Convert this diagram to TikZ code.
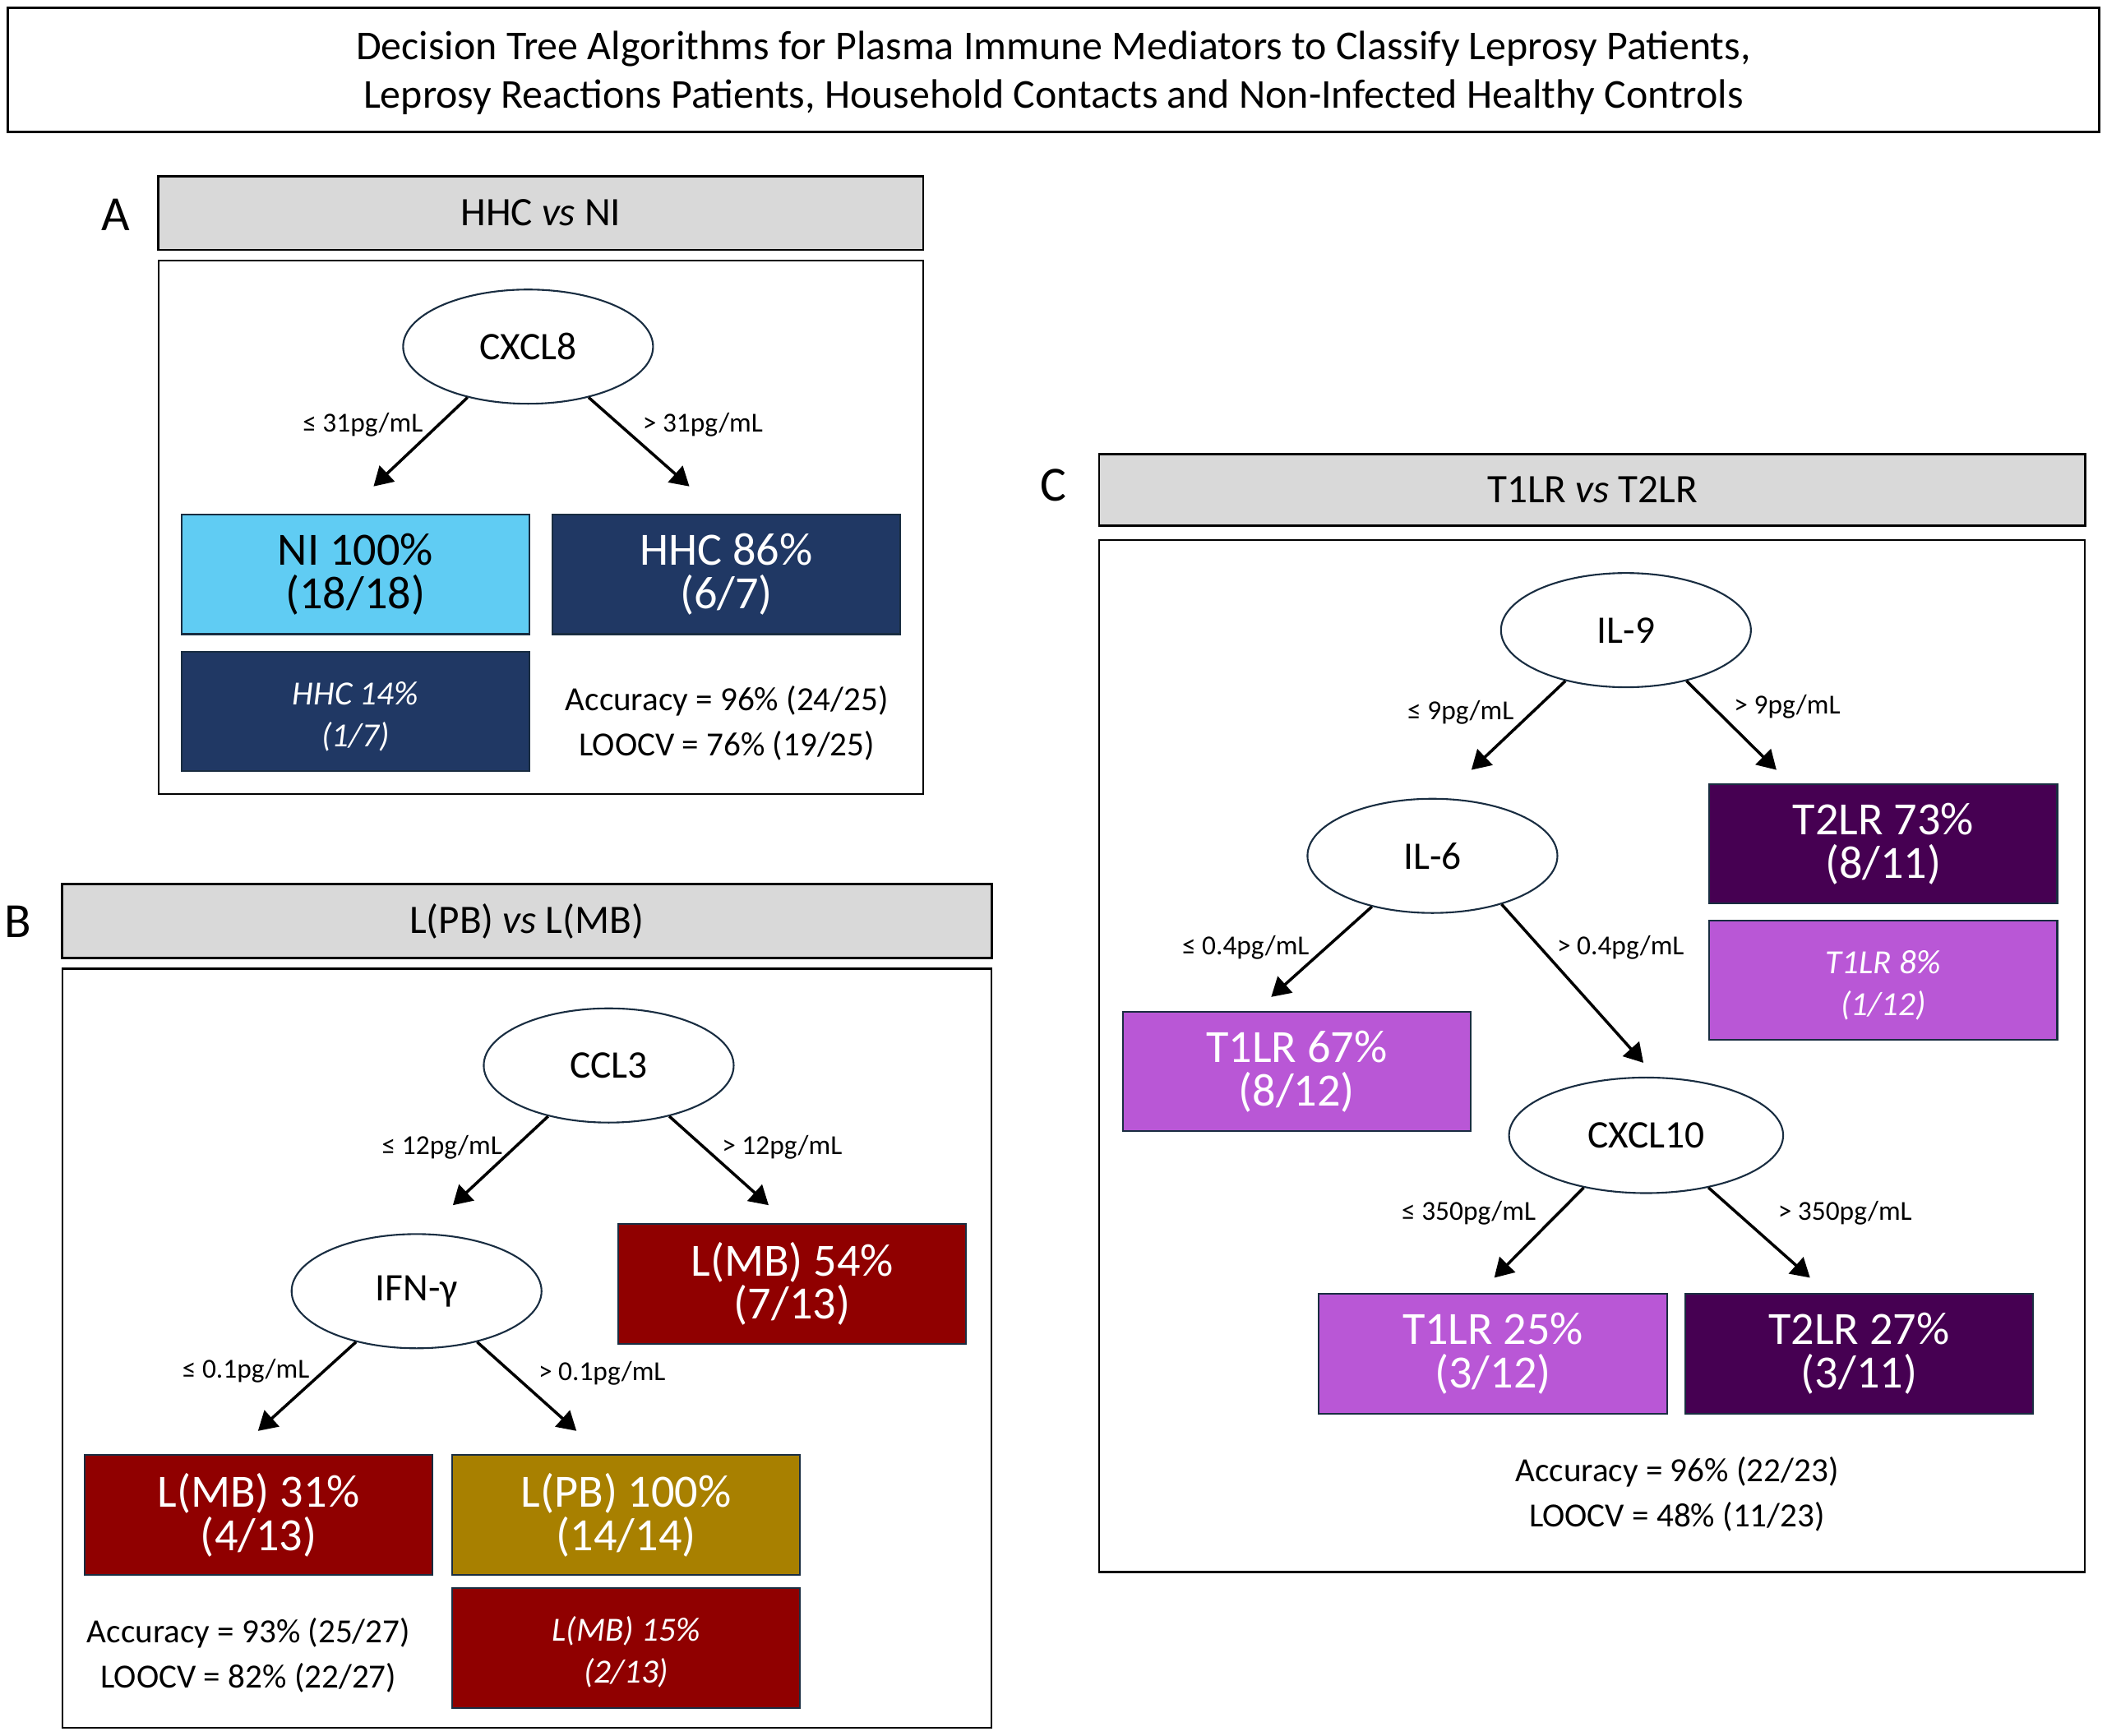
\documentclass[tikz,border=0pt]{standalone}
\usepackage{fontspec}
\setmainfont{Carlito}
\usetikzlibrary{shapes.geometric}
\usetikzlibrary{arrows.meta}

\newdimen\unitpx
\unitpx=0.16346mm

\definecolor{headgray}{RGB}{217,217,217}
\definecolor{niblue}{RGB}{96,204,243}
\definecolor{hhcnavy}{RGB}{32,56,100}
\definecolor{mbred}{RGB}{144,0,0}
\definecolor{pbgold}{RGB}{168,128,0}
\definecolor{tonelr}{RGB}{185,87,214}
\definecolor{ttwolr}{RGB}{70,0,82}
\definecolor{edgeblue}{RGB}{25,45,65}

% lowers the first line of the small italic boxes a little
\newcommand\lift{\rule{0pt}{11.5pt}}

\tikzset{
	head/.style={draw, line width=0.8pt, fill=headgray, inner sep=0pt,
		minimum width=#1*\unitpx, minimum height=55*\unitpx,
		font=\fontsize{14}{16}\selectfont},
	frame/.style={draw, line width=0.6pt},
	split/.style={ellipse, draw=edgeblue, line width=0.6pt, fill=white, inner sep=0pt,
		minimum width=186*\unitpx, minimum height=85*\unitpx,
		font=\fontsize{13.5}{16}\selectfont},
	leaf/.style={draw=edgeblue, line width=0.6pt, fill=#1, text=white, inner sep=0pt,
		minimum width=259*\unitpx, minimum height=89*\unitpx, align=center,
		font=\fontsize{16}{15}\selectfont},
	minor/.style={leaf=#1, font=\fontsize{11.7}{14.6}\selectfont\itshape},
	cut/.style={inner sep=0pt, font=\fontsize{9.5}{11}\selectfont},
	score/.style={inner sep=0pt, align=center, font=\fontsize{11.7}{15.6}\selectfont},
	letter/.style={inner sep=0pt, font=\fontsize{17}{20}\selectfont},
	arr/.style={-{Triangle[length=6.5pt,width=7.5pt]}, line width=1pt},
}

\begin{document}
\begin{tikzpicture}[x=0.16346mm, y=-0.16346mm]

	\useasboundingbox (0,0) rectangle (1568,1292);

	% title
	\draw[line width=0.85pt] (6,6) rectangle (1562,98);
	\node[inner sep=0pt, align=center, font=\fontsize{14.2}{16.8}\selectfont] (title) at (784,54)
		{Decision Tree Algorithms for Plasma Immune Mediators to Classify Leprosy Patients,\\
		 Leprosy Reactions Patients, Household Contacts and Non-Infected Healthy Controls};

	% A : HHC vs NI
	\node[letter] (lettA) at (86,160) {A};
	\node[head=569] (headA) at (402.5,158.5) {HHC \textit{vs} NI};
	\draw[frame] (118,194) rectangle (687,591);
	\node[split] (cxcl8) at (393,258) {CXCL8};
	\coordinate (cxcl8-l) at (278,362);
	\coordinate (cxcl8-r) at (513,362);
	\draw[arr] (cxcl8.220) -- (cxcl8-l);
	\draw[arr] (cxcl8.320) -- (cxcl8-r);
	\node[cut] (cutA1) at (270,316) {≤ 31pg/mL};
	\node[cut] (cutA2) at (523,316) {> 31pg/mL};
	\node[leaf=niblue, text=black] (ni) at (264.5,427.5) {NI 100\%\\(18/18)};
	\node[leaf=hhcnavy] (hhc) at (540.5,427.5) {HHC 86\%\\(6/7)};
	\node[minor=hhcnavy] (hhcm) at (264.5,529.5) {\lift HHC 14\%\\(1/7)};
	\node[score] (scoreA) at (541,538) {Accuracy = 96\% (24/25)\\LOOCV = 76\% (19/25)};

	% B : L(PB) vs L(MB)
	\node[letter] (lettB) at (13,686) {B};
	\node[head=692] (headB) at (392,685.5) {L(PB) \textit{vs} L(MB)};
	\draw[frame] (46.5,721) rectangle (738,1286);
	\node[split] (ccl3) at (453,793) {CCL3};
	\coordinate (ccl3-l) at (337,897);
	\coordinate (ccl3-r) at (572,897);
	\draw[arr] (ccl3.220) -- (ccl3-l);
	\draw[arr] (ccl3.320) -- (ccl3-r);
	\node[cut] (cutB1) at (329,854) {≤ 12pg/mL};
	\node[cut] (cutB2) at (582,854) {> 12pg/mL};
	\node[leaf=mbred] (mb54) at (589.5,955.5) {L(MB) 54\%\\(7/13)};
	\node[split] (ifng) at (310,961) {IFN-γ};
	\coordinate (ifng-l) at (192,1065);
	\coordinate (ifng-r) at (429,1065);
	\draw[arr] (ifng.220) -- (ifng-l);
	\draw[arr] (ifng.320) -- (ifng-r);
	\node[cut] (cutB3) at (183,1020) {≤ 0.1pg/mL};
	\node[cut] (cutB4) at (448,1022) {> 0.1pg/mL};
	\node[leaf=mbred] (mb31) at (192.5,1127.5) {L(MB) 31\%\\(4/13)};
	\node[leaf=pbgold] (pb) at (466,1127.5) {L(PB) 100\%\\(14/14)};
	\node[minor=mbred] (mb15) at (466,1226.5) {\lift L(MB) 15\%\\(2/13)};
	\node[score] (scoreB) at (185,1232) {Accuracy = 93\% (25/27)\\LOOCV = 82\% (22/27)};

	% C : T1LR vs T2LR
	\node[letter] (lettC) at (784,361) {C};
	\node[head=734, minimum height=53*\unitpx] (headC) at (1185,364.5) {T1LR \textit{vs} T2LR};
	\draw[frame] (818,402) rectangle (1551.5,1170);
	\node[split] (il9) at (1210,469) {IL-9};
	\coordinate (il9-l) at (1095,573);
	\coordinate (il9-r) at (1322,573);
	\draw[arr] (il9.220) -- (il9-l);
	\draw[arr] (il9.320) -- (il9-r);
	\node[cut] (cutC1) at (1087,530) {≤ 9pg/mL};
	\node[cut] (cutC2) at (1330,526) {> 9pg/mL};
	\node[leaf=ttwolr] (t2a) at (1401.5,628) {T2LR 73\%\\(8/11)};
	\node[minor=tonelr] (t1m) at (1401.5,729.5) {\lift T1LR 8\%\\(1/12)};
	\node[split] (il6) at (1066,637) {IL-6};
	\coordinate (il6-l) at (946,742);
	\coordinate (il6-r) at (1223,791);
	\draw[arr] (il6.220) -- (il6-l);
	\draw[arr] (il6.325) -- (il6-r);
	\node[cut] (cutC3) at (927,705) {≤ 0.4pg/mL};
	\node[cut] (cutC4) at (1206,705) {> 0.4pg/mL};
	\node[leaf=tonelr] (t1a) at (965,797.5) {T1LR 67\%\\(8/12)};
	\node[split, minimum width=204*\unitpx, minimum height=86*\unitpx] (cxcl10) at (1225,845) {CXCL10};
	\coordinate (cxcl10-l) at (1112,951);
	\coordinate (cxcl10-r) at (1347,951);
	\draw[arr] (cxcl10.220) -- (cxcl10-l);
	\draw[arr] (cxcl10.320) -- (cxcl10-r);
	\node[cut] (cutC5) at (1093,903) {≤ 350pg/mL};
	\node[cut] (cutC6) at (1373,903) {> 350pg/mL};
	\node[leaf=tonelr] (t1b) at (1111,1007.5) {T1LR 25\%\\(3/12)};
	\node[leaf=ttwolr] (t2b) at (1383.5,1007.5) {T2LR 27\%\\(3/11)};
	\node[score] (scoreC) at (1248,1112) {Accuracy = 96\% (22/23)\\LOOCV = 48\% (11/23)};

\end{tikzpicture}
\end{document}
